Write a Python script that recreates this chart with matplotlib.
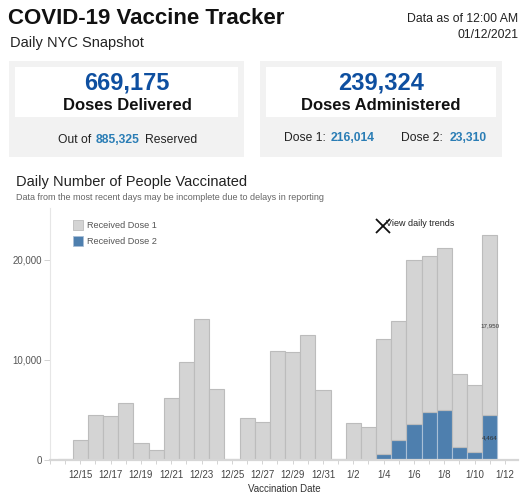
import numpy as np
import matplotlib
matplotlib.use("Agg")
import matplotlib.pyplot as plt
from matplotlib.patches import Rectangle

plt.rcParams['font.family'] = ['Liberation Sans', 'DejaVu Sans']

# daily data, 12/14 .. 1/11
dates = ['12/14', '12/15', '12/16', '12/17', '12/18', '12/19', '12/20', '12/21',
         '12/22', '12/23', '12/24', '12/25', '12/26', '12/27', '12/28', '12/29',
         '12/30', '12/31', '1/1', '1/2', '1/3', '1/4', '1/5', '1/6', '1/7', '1/8',
         '1/9', '1/10', '1/11']
dose1 = [60, 1950, 4500, 4350, 5650, 1650, 1000, 6150, 9750, 14050, 7100, 60,
         4200, 3800, 10850, 10750, 12500, 6950, 60, 3700, 3300, 11450, 11850,
         16450, 15600, 16200, 7370, 6700, 17950]
dose2 = [0, 0, 0, 0, 0, 0, 0, 0, 0, 0, 0, 0, 0, 0, 0, 0, 0, 0, 0, 0, 0,
         600, 2000, 3550, 4800, 5000, 1250, 750, 4464]
tick_labels = ['12/15', '12/17', '12/19', '12/21', '12/23', '12/25', '12/27', '12/29',
               '12/31', '1/2', '1/4', '1/6', '1/8', '1/10', '1/12']

W, H = 530, 500
fig = plt.figure(figsize=(5.3, 5.0), dpi=100)

def fx(px):
    return px / W

def fy(py):
    return 1 - py / H

# header
fig.text(fx(8), fy(18), "COVID-19 Vaccine Tracker", fontsize=16, fontweight='bold',
         va='center', ha='left', color='#111111')
fig.text(fx(10), fy(43), "Daily NYC Snapshot", fontsize=10.5, va='center', color='#222222')
fig.text(fx(518), fy(19), "Data as of 12:00 AM", fontsize=8.8, ha='right', va='center', color='#222222')
fig.text(fx(518), fy(35), "01/12/2021", fontsize=8.8, ha='right', va='center', color='#222222')

# summary boxes
def box(x0, x1):
    fig.patches.append(Rectangle((fx(x0), fy(157)), fx(x1 - x0), (157 - 61) / H,
                                 transform=fig.transFigure, facecolor='#f2f2f2', edgecolor='none'))
    fig.patches.append(Rectangle((fx(x0 + 6), fy(117)), fx(x1 - x0 - 12), (117 - 67) / H,
                                 transform=fig.transFigure, facecolor='white', edgecolor='none'))

box(9, 244)
box(260, 502)

blue = '#0e4fa0'
teal = '#2a7db5'
fig.text(fx(127), fy(83), "669,175", fontsize=17, fontweight='bold', color=blue, ha='center', va='center')
fig.text(fx(127), fy(105), "Doses Delivered", fontsize=12, fontweight='bold', color='#111111', ha='center', va='center')
fig.text(fx(381), fy(83), "239,324", fontsize=17, fontweight='bold', color=blue, ha='center', va='center')
fig.text(fx(381), fy(105), "Doses Administered", fontsize=12, fontweight='bold', color='#111111', ha='center', va='center')

fig.text(fx(58), fy(140), "Out of", fontsize=8.7, color='#222222', va='center')
fig.text(fx(96), fy(140), "885,325", fontsize=8.7, fontweight='bold', color=teal, va='center')
fig.text(fx(145), fy(140), "Reserved", fontsize=8.7, color='#222222', va='center')

fig.text(fx(284), fy(138), "Dose 1:", fontsize=8.7, color='#222222', va='center')
fig.text(fx(331), fy(138), "216,014", fontsize=8.7, fontweight='bold', color=teal, va='center')
fig.text(fx(401), fy(138), "Dose 2:", fontsize=8.7, color='#222222', va='center')
fig.text(fx(450), fy(138), "23,310", fontsize=8.7, fontweight='bold', color=teal, va='center')

# chart titles
fig.text(fx(16), fy(182), "Daily Number of People Vaccinated", fontsize=10.5, color='#222222', va='center')
fig.text(fx(16), fy(197), "Data from the most recent days may be incomplete due to delays in reporting",
         fontsize=6.5, color='#666666', va='center')

# chart
ax = fig.add_axes([fx(50), fy(460), fx(518 - 50), (460 - 208) / H])
x = np.arange(len(dates))
ax.bar(x, dose2, width=1.0, color='#4e7fae', edgecolor='#a9bfd6', linewidth=0.8)
ax.bar(x, dose1, bottom=dose2, width=1.0, color='#d4d4d4', edgecolor='#bcbcbc', linewidth=0.8)

ax.set_xlim(-1, 29.86)
ax.set_ylim(0, 25150)
for s in ['top', 'right']:
    ax.spines[s].set_visible(False)
ax.spines['left'].set_color('#e6e6e6')
ax.spines['left'].set_linewidth(0.8)
ax.spines['bottom'].set_color('#d6d6d6')
ax.spines['bottom'].set_linewidth(1.6)

ax.set_yticks([0, 10000, 20000])
ax.set_yticklabels(['0', '10,000', '20,000'])
ax.tick_params(axis='y', length=4, width=0.6, color='#cccccc', labelsize=7, labelcolor='#555555', pad=2)

ax.set_xticks(np.arange(1, 30, 2))
ax.set_xticklabels(tick_labels)
ax.set_xticks(np.arange(-1, 30), minor=True)
ax.tick_params(axis='x', which='both', length=3, width=0.6, color='#cccccc', labelsize=7,
               labelcolor='#444444', pad=4)
ax.set_xlabel("Vaccination Date", fontsize=7, color='#333333', labelpad=3)

# legend
ax.add_patch(Rectangle((fx(73), fy(230)), fx(10), 10 / H, transform=fig.transFigure,
                       facecolor='#d4d4d4', edgecolor='#bcbcbc', linewidth=0.6, clip_on=False))
ax.add_patch(Rectangle((fx(73), fy(246)), fx(10), 10 / H, transform=fig.transFigure,
                       facecolor='#4e7fae', edgecolor='#a9bfd6', linewidth=0.6, clip_on=False))
fig.text(fx(87), fy(225), "Received Dose 1", fontsize=6.6, color='#555555', va='center')
fig.text(fx(87), fy(241), "Received Dose 2", fontsize=6.6, color='#555555', va='center')

# view daily trends
fig.lines.append(plt.Line2D([fx(383)], [fy(226)], marker='x', markersize=10, mew=1.3,
                            color='#111111', transform=fig.transFigure))
fig.text(fx(386), fy(223), "View daily trends", fontsize=6.5, color='#222222', va='center')

# labels on last bar
ax.text(x[-1], dose2[-1] + dose1[-1] / 2, "17,950", fontsize=4.5, color='#333333', ha='center', va='center')
ax.text(x[-1], dose2[-1] / 2, "4,464", fontsize=4.5, color='#333333', ha='center', va='center')

fig.savefig("out.png", dpi=100)
